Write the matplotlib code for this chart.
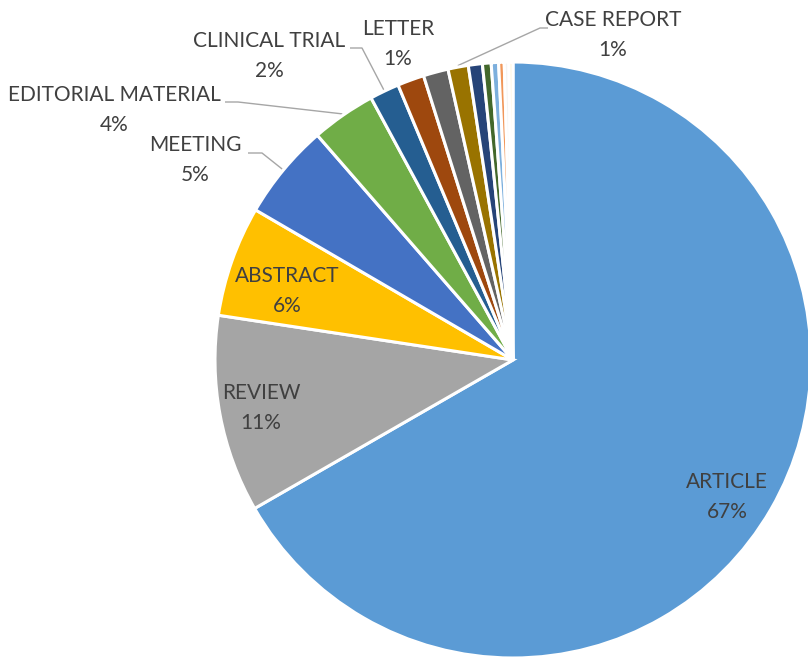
import matplotlib
matplotlib.use("Agg")
import matplotlib.pyplot as plt
import numpy as np

categories = ["ARTICLE", "REVIEW", "ABSTRACT", "MEETING", "EDITORIAL MATERIAL",
              "CLINICAL TRIAL", "LETTER", "OTHER A", "CASE REPORT", "OTHER B",
              "OTHER C", "OTHER D", "OTHER E", "OTHER F", "OTHER G"]
values = [66.7, 10.7, 6.0, 5.2, 3.5, 1.6, 1.45, 1.35, 1.1, 0.76, 0.47, 0.4, 0.3, 0.25, 0.22]
shown_labels = ["ARTICLE", "REVIEW", "ABSTRACT", "MEETING", "EDITORIAL MATERIAL",
                "CLINICAL TRIAL", "LETTER", "CASE REPORT"]

colors = ["#5B9BD5", "#A5A5A5", "#FFC000", "#4472C4", "#70AD47", "#255E91",
          "#9E480E", "#636363", "#997300", "#264478", "#43682B", "#7CAFDD",
          "#F1975A", "#F4F4F4", "#FFF6DD"]

W, H = 808, 658
CX, CY, R = 513, 360, 298

def px(x, y):
    return (x - CX) / R, (CY - y) / R

fig = plt.figure(figsize=(W / 100, H / 100), dpi=100)
ax = fig.add_axes([0, 0, 1, 1])

wedges, _ = ax.pie(values, colors=colors, startangle=90, counterclock=False,
                   radius=1.0, wedgeprops=dict(edgecolor="white", linewidth=2.2))
ax.set_xlim((0 - CX) / R, (W - CX) / R)
ax.set_ylim((CY - H) / R, (CY - 0) / R)
ax.set_aspect("equal", adjustable="datalim")
ax.axis("off")

total = sum(values)
pct = {c: v / total * 100 for c, v in zip(categories, values)}

# label layout (pixel positions of label centres) and leader elbows
label_pos = {
    "ARTICLE": (727, 497),
    "REVIEW": (261, 408),
    "ABSTRACT": (287, 291),
    "MEETING": (195, 160),
    "EDITORIAL MATERIAL": (114, 110),
    "CLINICAL TRIAL": (269, 56),
    "LETTER": (398, 44),
    "CASE REPORT": (613, 35),
}
leaders = {
    "MEETING": [(248, 153), (262, 153)],
    "EDITORIAL MATERIAL": [(225, 102), (238, 102)],
    "CLINICAL TRIAL": [(350, 48), (362, 48)],
    "CASE REPORT": [(548, 28), (540, 28)],
}

font = dict(family=["Lato", "DejaVu Sans"], size=15, color="#404040")
for name in shown_labels:
    i = categories.index(name)
    x, y = px(*label_pos[name])
    ax.text(x, y, f"{name}\n{pct[name]:.0f}%", ha="center", va="center",
            linespacing=1.6, **font)
    if name in leaders:
        w = wedges[i]
        mid = np.deg2rad((w.theta1 + w.theta2) / 2)
        end = (1.005 * np.cos(mid), 1.005 * np.sin(mid))
        pts = [px(*p) for p in leaders[name]] + [end]
        ax.plot([p[0] for p in pts], [p[1] for p in pts], color="#A6A6A6",
                lw=1.0, solid_capstyle="butt", zorder=0.5)

fig.savefig("out.png", dpi=100, facecolor="white")
